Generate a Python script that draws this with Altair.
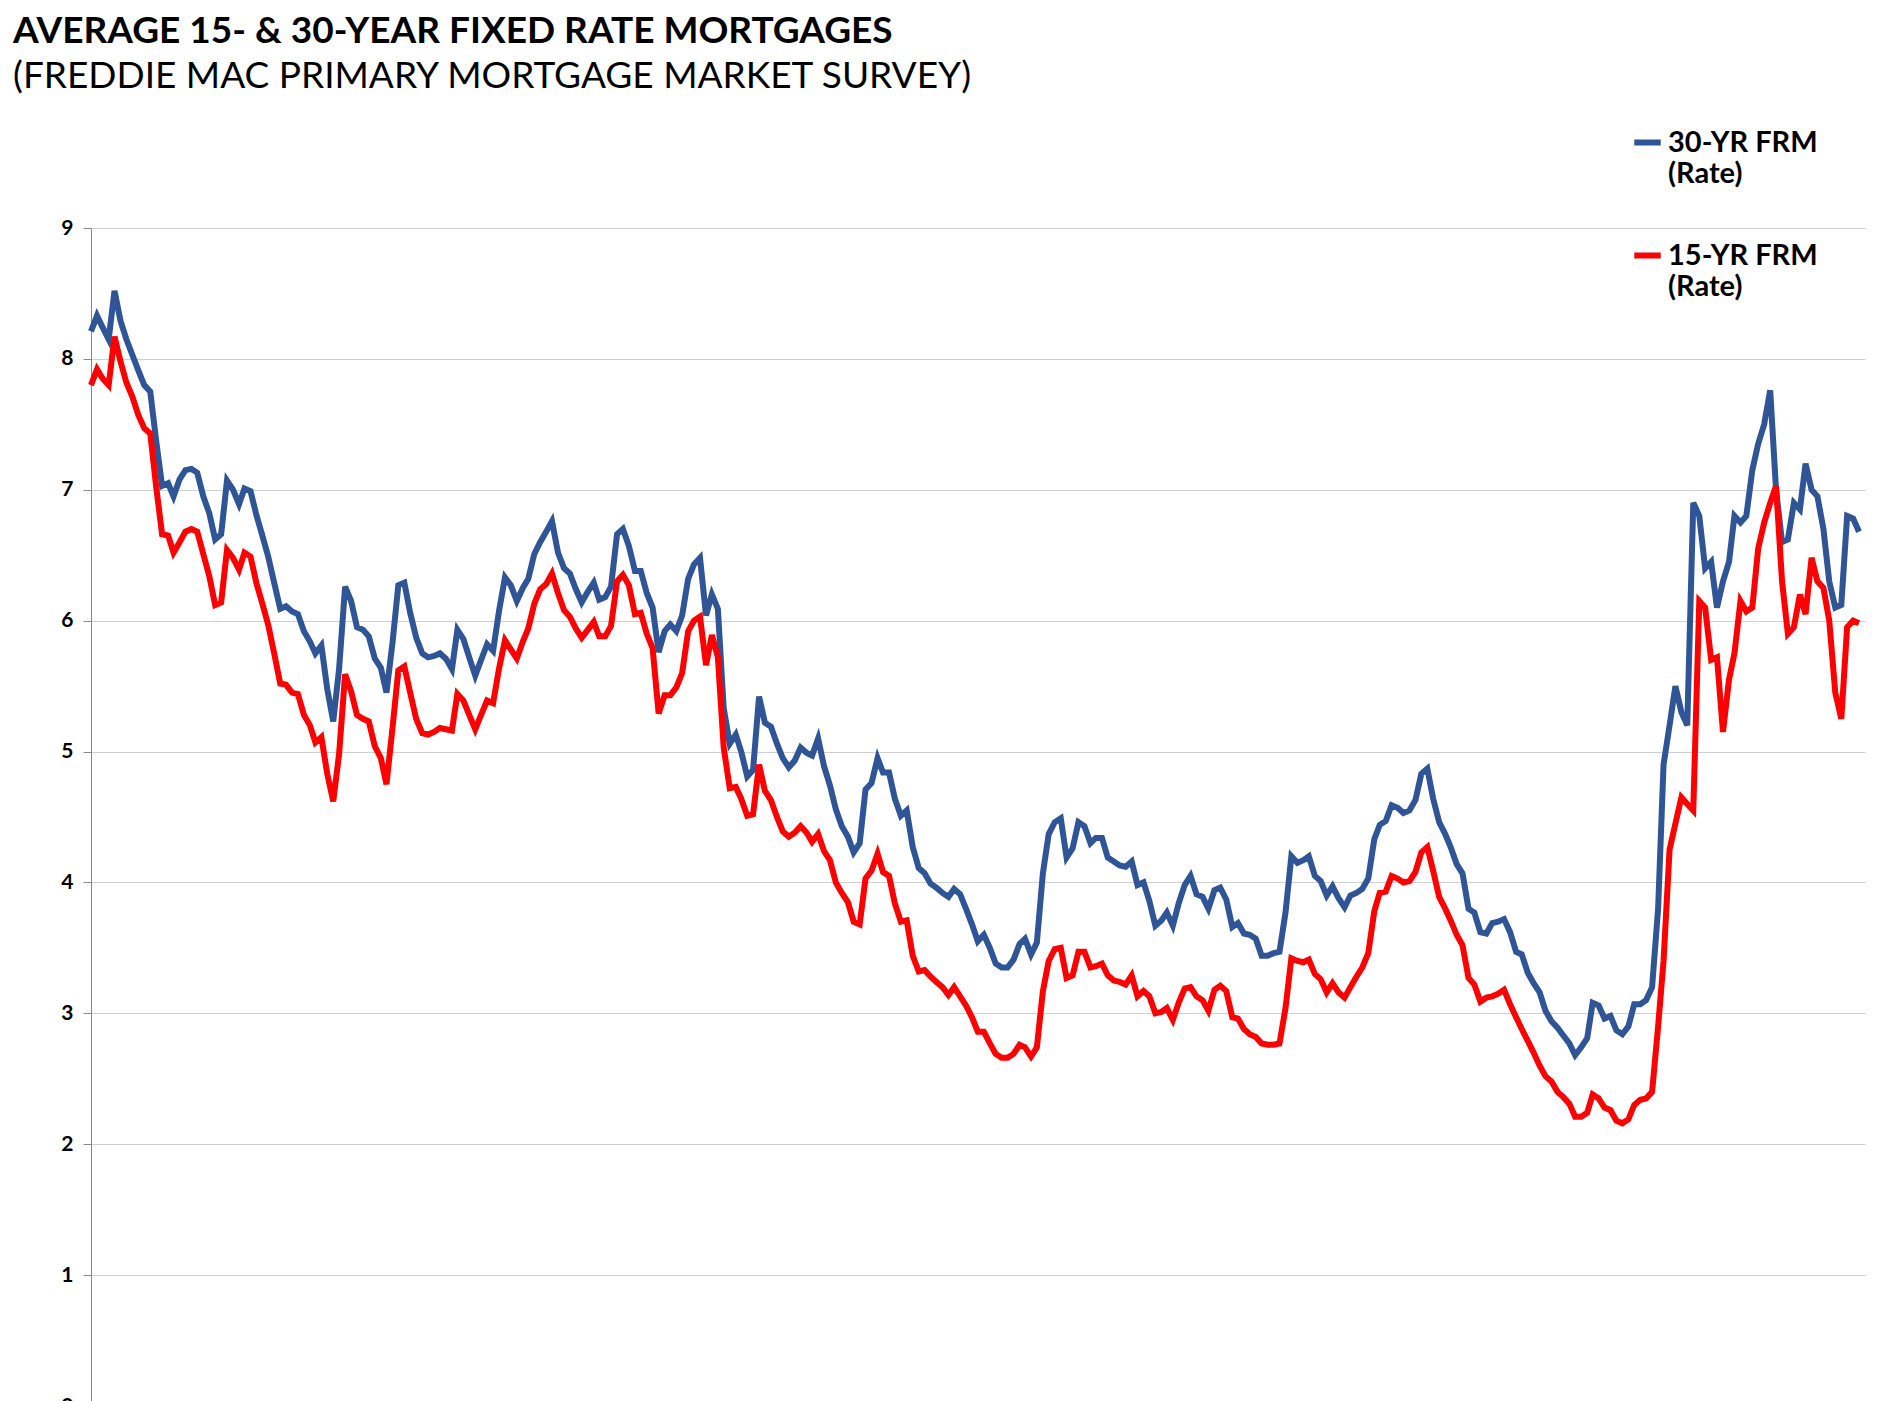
import altair as alt
import pandas as pd

frm30 = [
8.21,8.33,8.24,8.15,8.52,8.29,8.15,8.03,7.91,7.80,7.75,7.38,
7.03,7.05,6.95,7.08,7.15,7.16,7.13,6.95,6.82,6.62,6.66,7.07,
7.00,6.89,7.01,6.99,6.81,6.65,6.49,6.29,6.09,6.11,6.07,6.05,
5.92,5.84,5.75,5.81,5.48,5.23,5.63,6.26,6.15,5.95,5.93,5.88,
5.71,5.64,5.45,5.83,6.27,6.29,6.06,5.87,5.75,5.72,5.73,5.75,
5.71,5.63,5.93,5.86,5.72,5.58,5.70,5.82,5.77,6.07,6.33,6.27,
6.15,6.25,6.32,6.51,6.60,6.68,6.76,6.52,6.40,6.36,6.24,6.14,
6.22,6.29,6.16,6.18,6.26,6.66,6.70,6.57,6.38,6.38,6.21,6.10,
5.76,5.92,5.97,5.92,6.04,6.32,6.43,6.48,6.04,6.20,6.09,5.33,
5.06,5.13,5.00,4.81,4.86,5.42,5.22,5.19,5.06,4.95,4.88,4.93,
5.03,4.99,4.97,5.10,4.89,4.74,4.56,4.43,4.35,4.23,4.30,4.71,
4.76,4.95,4.84,4.84,4.64,4.51,4.55,4.27,4.11,4.07,3.99,3.96,
3.92,3.89,3.95,3.91,3.80,3.68,3.55,3.60,3.50,3.38,3.35,3.35,
3.41,3.53,3.57,3.45,3.54,4.07,4.37,4.46,4.49,4.19,4.26,4.46,
4.43,4.30,4.34,4.34,4.19,4.16,4.13,4.12,4.16,3.98,4.00,3.86,
3.67,3.71,3.77,3.67,3.84,3.98,4.05,3.91,3.89,3.80,3.94,3.96,
3.87,3.66,3.69,3.61,3.60,3.57,3.44,3.44,3.46,3.47,3.77,4.20,
4.15,4.17,4.20,4.05,4.01,3.90,3.97,3.88,3.81,3.90,3.92,3.95,
4.03,4.33,4.44,4.47,4.59,4.57,4.53,4.55,4.63,4.83,4.87,4.64,
4.46,4.37,4.27,4.14,4.07,3.80,3.77,3.62,3.61,3.69,3.70,3.72,
3.62,3.47,3.45,3.31,3.23,3.16,3.02,2.94,2.89,2.83,2.77,2.68,
2.74,2.81,3.08,3.06,2.96,2.98,2.87,2.84,2.90,3.07,3.07,3.10,
3.20,3.80,4.90,5.20,5.50,5.30,5.20,6.90,6.80,6.40,6.45,6.10,
6.30,6.45,6.80,6.75,6.80,7.15,7.35,7.50,7.76,7.00,6.60,6.62,
6.90,6.85,7.20,7.00,6.95,6.70,6.30,6.10,6.12,6.80,6.78,6.68]

frm15 = [
7.80,7.92,7.85,7.80,8.17,7.98,7.82,7.71,7.57,7.47,7.43,7.03,
6.66,6.65,6.52,6.60,6.68,6.70,6.68,6.51,6.34,6.12,6.14,6.54,
6.48,6.39,6.52,6.49,6.29,6.13,5.97,5.75,5.52,5.51,5.45,5.44,
5.28,5.20,5.07,5.11,4.83,4.62,4.98,5.59,5.46,5.28,5.25,5.23,
5.04,4.95,4.75,5.18,5.62,5.65,5.45,5.25,5.14,5.13,5.15,5.18,
5.17,5.16,5.44,5.39,5.28,5.17,5.28,5.39,5.37,5.63,5.85,5.78,
5.71,5.84,5.94,6.13,6.24,6.28,6.36,6.21,6.08,6.03,5.94,5.87,
5.93,5.99,5.88,5.88,5.96,6.30,6.35,6.27,6.05,6.06,5.90,5.79,
5.29,5.43,5.43,5.49,5.60,5.92,6.00,6.03,5.66,5.89,5.72,5.03,
4.72,4.73,4.64,4.51,4.52,4.90,4.70,4.63,4.50,4.39,4.35,4.38,
4.43,4.38,4.31,4.37,4.24,4.17,4.00,3.92,3.85,3.70,3.68,4.03,
4.09,4.22,4.08,4.05,3.84,3.70,3.71,3.44,3.32,3.33,3.28,3.24,
3.20,3.14,3.20,3.13,3.06,2.97,2.86,2.86,2.77,2.69,2.66,2.66,
2.69,2.76,2.74,2.67,2.74,3.17,3.40,3.49,3.50,3.27,3.29,3.47,
3.47,3.35,3.36,3.38,3.29,3.25,3.24,3.22,3.29,3.13,3.17,3.13,
3.00,3.01,3.04,2.95,3.08,3.19,3.20,3.13,3.10,3.02,3.18,3.21,
3.17,2.97,2.96,2.88,2.84,2.82,2.77,2.76,2.76,2.77,3.04,3.42,
3.40,3.39,3.41,3.30,3.26,3.16,3.23,3.16,3.12,3.20,3.28,3.35,
3.46,3.78,3.92,3.93,4.05,4.03,4.00,4.01,4.08,4.23,4.27,4.09,
3.89,3.80,3.71,3.60,3.52,3.27,3.22,3.09,3.12,3.13,3.15,3.18,
3.07,2.97,2.88,2.79,2.70,2.60,2.52,2.48,2.40,2.36,2.31,2.21,
2.21,2.24,2.38,2.35,2.28,2.26,2.18,2.16,2.19,2.30,2.34,2.35,
2.40,2.90,3.40,4.25,4.45,4.65,4.60,4.55,6.15,6.10,5.70,5.72,
5.15,5.55,5.75,6.15,6.07,6.10,6.55,6.75,6.90,7.03,6.30,5.90,
5.95,6.20,6.05,6.48,6.30,6.25,6.00,5.45,5.25,5.95,6.00,5.98]

dates = pd.date_range("2000-01-01", periods=len(frm30), freq="MS")
series = ["30-YR FRM|(Rate)", "15-YR FRM|(Rate)"]
year_ticks = [f"{y}-01-01" for y in range(2000, 2025)]
df = pd.concat([
    pd.DataFrame({"date": dates, "rate": frm30, "series": series[0]}),
    pd.DataFrame({"date": dates, "rate": frm15, "series": series[1]}),
])

FONT = "Lato"
chart = alt.Chart(df).mark_line(strokeWidth=6).encode(
    x=alt.X("date:T", scale=alt.Scale(domain=["2000-01-01", "2025-01-01"], nice=False),
            axis=alt.Axis(title=None, format="%Y", values=year_ticks,
                          labelAngle=-45, labelAlign="right", labelBaseline="top",
                          labelFontSize=21, labelFontWeight="bold", labelColor="black",
                          grid=False, domainColor="#888", tickColor="#888", tickSize=8,
                          labelOverlap=False)),
    y=alt.Y("rate:Q", scale=alt.Scale(domain=[0, 9]),
            axis=alt.Axis(title=None, values=list(range(10)), labelFontSize=21,
                          labelFontWeight="bold", labelColor="black", gridColor="#d0d0d0",
                          domainColor="#888", tickColor="#888", tickSize=8, labelPadding=10)),
    color=alt.Color("series:N", sort=series,
                    scale=alt.Scale(domain=series, range=["#2f5597", "#ff0000"]),
                    legend=alt.Legend(title=None, orient="none", legendX=1540, legendY=-102,
                                      labelExpr="split(datum.label, '|')",
                                      labelFontSize=29, labelFontWeight="bold", labelFont=FONT,
                                      labelLimit=400,
                                      symbolType="stroke", symbolStrokeWidth=6, symbolSize=700,
                                      rowPadding=50, labelColor="black")),
).properties(
    width=1774, height=1178,
    title=alt.TitleParams(["AVERAGE 15- & 30-YEAR FIXED RATE MORTGAGES"],
                          subtitle=["(FREDDIE MAC PRIMARY MORTGAGE MARKET SURVEY)"],
                          anchor="start", frame="group", dx=-78, offset=30,
                          fontSize=37, subtitleFontSize=37, font=FONT, subtitleFont=FONT,
                          fontWeight="bold", subtitleColor="black", color="black",
                          subtitlePadding=8),
).configure_view(stroke=None).configure_axis(labelFont=FONT)

chart.save("out.html", embed_options={"renderer": "svg", "actions": False})
